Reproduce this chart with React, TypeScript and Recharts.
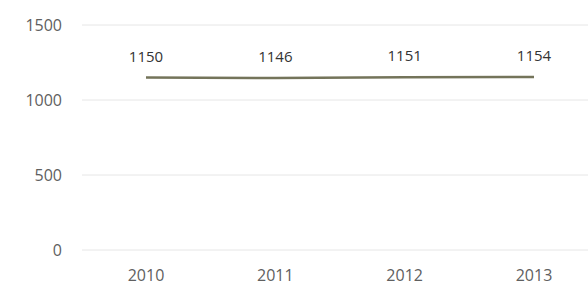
import React from "react";
import {
  LineChart,
  Line,
  XAxis,
  YAxis,
  CartesianGrid,
  LabelList,
} from "recharts";

const years = ["2010", "2011", "2012", "2013"];
const values = [1150, 1146, 1151, 1154];
const yTicks = [0, 500, 1000, 1500];

const data = years.map((year, i) => ({ year, value: values[i] }));

const FONT = "'Open Sans', 'Noto Sans', sans-serif";

export default function App() {
  return (
    <div
      style={{
        position: "fixed",
        left: 0,
        top: 0,
        width: 588,
        height: 287,
        overflow: "hidden",
        background: "#fff",
      }}
    >
      <LineChart
        width={598}
        height={287}
        data={data}
        margin={{ top: 25, right: 0, bottom: 0, left: 0 }}
      >
        <CartesianGrid vertical={false} stroke="#e6e6e6" />
        <XAxis
          dataKey="year"
          axisLine={false}
          tickLine={false}
          height={37}
          tickMargin={14}
          padding={{ left: 64, right: 64 }}
          tick={{ fill: "#606060", fontSize: 16, fontFamily: FONT }}
        />
        <YAxis
          domain={[0, 1500]}
          ticks={yTicks}
          axisLine={false}
          tickLine={false}
          width={82}
          tickMargin={14}
          tick={{ fill: "#606060", fontSize: 16, fontFamily: FONT }}
        />
        <Line
          dataKey="value"
          stroke="#74745a"
          strokeWidth={2.5}
          dot={false}
          isAnimationActive={false}
        >
          <LabelList
            dataKey="value"
            position="top"
            offset={16}
            fill="#333"
            fontSize={15}
            fontFamily={FONT}
          />
        </Line>
      </LineChart>
    </div>
  );
}
